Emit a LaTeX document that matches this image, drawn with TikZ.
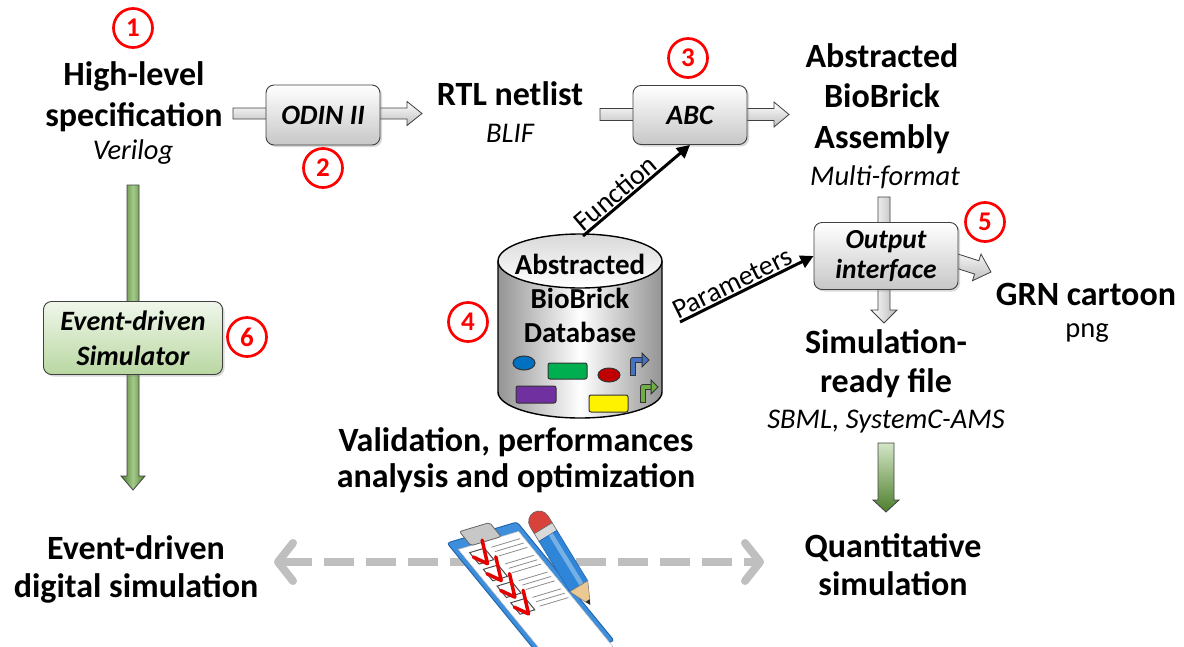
\documentclass[tikz,border=0pt]{standalone}
\usepackage{fontspec}
\setmainfont{Carlito}
\usetikzlibrary{arrows.meta,calc,shadows}

\definecolor{boxline}{HTML}{404040}
\definecolor{simtop}{HTML}{F0F7EA}
\definecolor{simbot}{HTML}{B9D7A2}
\definecolor{greenlight}{HTML}{D3E6C6}
\definecolor{greenmid}{HTML}{A3C98A}
\definecolor{greendark}{HTML}{4E7F2C}
\definecolor{numred}{HTML}{FF0000}
\definecolor{dashgray}{HTML}{BFBFBF}
\definecolor{boardblue}{HTML}{3D8EDB}
\definecolor{boarddark}{HTML}{2467AE}
\definecolor{pencilblue}{HTML}{2F86D8}
\definecolor{eraser}{HTML}{D9413B}
\definecolor{wood}{HTML}{ECC892}
\definecolor{partblue}{HTML}{0070C0}
\definecolor{partgreen}{HTML}{00B050}
\definecolor{partred}{HTML}{C00000}
\definecolor{partpurple}{HTML}{7030A0}
\definecolor{promblue}{HTML}{4472C4}
\definecolor{promgreen}{HTML}{70AD47}

% block arrow: style, from, to, shaft half width, head half width, head length
\newcommand{\blockarrow}[6]{%
  \coordinate (bab) at ($(#3)!#6!(#2)$);
  \path[#1] ($(#2)!#4!90:(#3)$) -- ($(bab)!#4!-90:(#2)$) -- ($(bab)!#5!-90:(#2)$)
    -- (#3) -- ($(bab)!#5!90:(#2)$) -- ($(bab)!#4!90:(#2)$)
    -- ($(#2)!#4!-90:(#3)$) -- cycle;
}

\tikzset{
  title/.style={font=\fontsize{34}{41}\selectfont\bfseries, align=center, inner sep=0pt},
  fmt/.style={font=\fontsize{28.5}{32}\selectfont\itshape, inner sep=0pt, anchor=base},
  plain/.style={font=\fontsize{28.5}{32}\selectfont, inner sep=0pt, anchor=base},
  num/.style={circle, draw=numred, line width=2.7pt, minimum size=39pt, inner sep=0pt,
    text=numred, font=\fontsize{27}{27}\selectfont\bfseries},
  procbox/.style={rounded corners=8pt, draw=boxline, line width=0.9pt,
    top color=white, bottom color=black!22,
    drop shadow={opacity=0.3, shadow xshift=2pt, shadow yshift=-2pt},
    font=\fontsize{28}{30}\selectfont\bfseries\itshape, align=center, inner sep=0pt},
  simbox/.style={procbox, top color=simtop, bottom color=simbot,
    font=\fontsize{28}{35}\selectfont\bfseries\itshape},
  grayarrow/.style={draw=boxline, line width=0.8pt, top color=white, bottom color=black!25},
  grayvarrow/.style={draw=boxline, line width=0.8pt, left color=white, right color=black!28},
  greenarrow/.style={draw=boxline, line width=0.8pt, top color=greenlight, bottom color=greendark},
  greenlong/.style={draw=boxline, line width=0.8pt, left color=greendark, right color=greendark, middle color=greenmid},
  feed/.style={line width=3pt, -{Triangle[length=13pt,width=13pt]}},
  feedlabel/.style={font=\fontsize{28}{30}\selectfont, sloped, above, inner sep=1pt},
  dbtext/.style={font=\fontsize{29}{34}\selectfont\bfseries, align=center, inner sep=0pt},
  compare/.style={dashgray, line width=8pt, dash pattern=on 30pt off 12pt,
    {Straight Barb[length=15pt,width=38pt,round]}-{Straight Barb[length=15pt,width=38pt,round]}},
  part/.style={draw=black!80, line width=1pt},
}

\begin{document}
\begin{tikzpicture}[x=1pt, y=1pt]
\useasboundingbox (0,0) rectangle (1184,-646);

% ---------------- block arrows (drawn first, boxes sit on top) ----------------
\coordinate (a1s) at (233,-113.5);  \coordinate (a1e) at (422,-113.5);
\coordinate (a2s) at (600,-114.5);  \coordinate (a2e) at (789,-114.5);
\coordinate (a3s) at (884,-197);    \coordinate (a3e) at (884,-323);
\coordinate (a4s) at (935,-254);    \coordinate (a4e) at (991,-272);
\coordinate (g1s) at (133,-185);    \coordinate (g1e) at (133,-490);
\coordinate (g2s) at (886,-443);    \coordinate (g2e) at (886,-512);

\blockarrow{grayarrow}{a1s}{a1e}{5.5pt}{12pt}{15pt}
\blockarrow{grayarrow}{a2s}{a2e}{6pt}{12.5pt}{15pt}
\blockarrow{grayvarrow}{a3s}{a3e}{6pt}{13pt}{13pt}
\blockarrow{grayarrow}{a4s}{a4e}{7pt}{14pt}{15pt}
\blockarrow{greenlong}{g1s}{g1e}{6pt}{12pt}{14pt}
\blockarrow{greenarrow}{g2s}{g2e}{8pt}{13pt}{12pt}

% ---------------- process boxes ----------------
\node[procbox, minimum width=114pt, minimum height=60pt] (odin) at (323,-115) {ODIN II};
\node[procbox, minimum width=114pt, minimum height=59pt] (abc) at (690,-115) {ABC};
\node[procbox, minimum width=144pt, minimum height=67pt,
      font=\fontsize{27.5}{30}\selectfont\bfseries\itshape] (out) at (886,-256) {Output\\interface};
\node[simbox, minimum width=179pt, minimum height=73pt] (sim) at (133,-338) {Event-driven\\Simulator};

% ---------------- titles and formats ----------------
\node[title] (spec) at (134,-97) {High-level\\specification};
\node[fmt] (verilog) at (133,-159) {Verilog};
\node[title, anchor=base] (rtl) at (510,-105) {RTL netlist};
\node[fmt] (blif) at (510,-142) {BLIF};
\node[title, font=\fontsize{34}{40.5}\selectfont\bfseries] (asm) at (882,-98.7) {Abstracted\\BioBrick\\Assembly};
\node[fmt] (multi) at (885,-185) {Multi-format};
\node[title, anchor=base] (grn) at (1086,-305) {GRN cartoon};
\node[plain] (png) at (1087,-337) {png};
\node[title, font=\fontsize{34}{39}\selectfont\bfseries] (ready) at (886,-363.7) {Simulation-\\ready file};
\node[fmt] (sbml) at (886,-428) {SBML, SystemC-AMS};
\node[title, font=\fontsize{34}{36}\selectfont\bfseries] (valid) at (516,-460) {Validation, performances\\analysis and optimization};
\node[title, font=\fontsize{34}{38}\selectfont\bfseries] (evsim) at (136,-569) {Event-driven\\digital simulation};
\node[title, font=\fontsize{34}{38}\selectfont\bfseries] (quant) at (893,-565) {Quantitative\\simulation};

% ---------------- numbered markers ----------------
\node[num] (n1) at (133,-28) {1};
\node[num] (n2) at (323,-168) {2};
\node[num] (n3) at (688,-58) {3};
\node[num] (n4) at (468,-322) {4};
\node[num] (n5) at (985,-222) {5};
\node[num] (n6) at (247,-337) {6};

% ---------------- BioBrick database cylinder ----------------
\shade[left color=black!42, right color=black!42, middle color=white]
  (498,-261) -- (498,-392) arc[start angle=180, end angle=360, x radius=82, y radius=26]
  -- (662,-261) arc[start angle=0, end angle=180, x radius=82, y radius=27] -- cycle;
\draw[line width=1.4pt]
  (498,-261) -- (498,-392) arc[start angle=180, end angle=360, x radius=82, y radius=26]
  -- (662,-261);
\shade[top color=black!15, bottom color=white] (580,-261) ellipse[x radius=82, y radius=27];
\draw[line width=1.4pt] (580,-261) ellipse[x radius=82, y radius=27];
\node[dbtext] (db) at (580,-298.6) {Abstracted\\BioBrick\\Database};
\coordinate (dbtop) at (583,-236);
\coordinate (dbside) at (680,-322);

% parts inside the database
\draw[part, fill=partblue] (524,-363) ellipse[x radius=11, y radius=7];
\draw[part, fill=partgreen, rounded corners=2pt] (548,-363) rectangle (587,-379);
\draw[part, fill=partred] (609,-375) ellipse[x radius=11, y radius=7];
\draw[part, fill=partpurple, rounded corners=2pt] (516,-386) rectangle (556,-403);
\draw[part, fill=yellow, rounded corners=2pt] (589,-395) rectangle (628,-412);
% promoter glyphs
\draw[black!80, line width=6pt, line join=round] (633,-376) -- (633,-360) -- (642,-360);
\draw[promblue, line width=4pt, line join=round] (633,-375) -- (633,-360) -- (643,-360);
\draw[part, fill=promblue] (642,-353) -- (649,-360) -- (642,-367) -- cycle;
\draw[black!80, line width=6pt, line join=round] (643,-403) -- (643,-387) -- (651,-387);
\draw[promgreen, line width=4pt, line join=round] (643,-402) -- (643,-387) -- (652,-387);
\draw[part, fill=promgreen] (651,-380) -- (658,-387) -- (651,-394) -- cycle;

% ---------------- function / parameter feeds ----------------
\draw[feed] (dbtop) -- (abc.south) node[feedlabel, pos=0.37] {Function};
\draw[feed] (dbside) -- (out.west) node[feedlabel, pos=0.43] {Parameters};

% ---------------- comparison of the two simulations ----------------
\coordinate (cmpl) at (274,-562);
\coordinate (cmpr) at (764,-562);
\draw[compare] (cmpl) -- (cmpr);

% clipboard
\begin{scope}
\clip (0,0) rectangle (1184,-646);
\begin{scope}[cm={70,21,72,-88,(447,-543)}]
  \draw[draw=boarddark, fill=boardblue, line width=1pt, rounded corners=3pt] (0,0) rectangle (1,1.35);
  \draw[draw=black!25, fill=white, line width=0.5pt] (0.07,0.09) rectangle (0.93,1.4);
  \draw[draw=black!60, fill=black!22, line width=0.8pt, rounded corners=2pt] (0.25,-0.07) rectangle (0.68,0.09);
  \foreach \v in {0.15,0.34,0.53,0.72} {
    \draw[black!70, line width=1pt] (0.17,\v) rectangle (0.38,\v+0.13);
    \draw[red!90!black, line width=3.5pt, line cap=round, line join=round]
      (0.17,\v+0.05) -- (0.27,\v+0.15) -- (0.43,\v-0.08);
    \foreach \k in {0.01,0.06,0.11} {
      \draw[black!45, line width=0.8pt] (0.47,\v+\k) -- (0.88,\v+\k);
    }
  }
\end{scope}
\end{scope}

% pencil
\begin{scope}[shift={(537,-518)}, rotate=-58.5]
  \draw[black!60, fill=eraser, line width=0.6pt]
    (12,-10.5) -- (4,-10.5) arc[start angle=270, end angle=90, radius=10.5] -- (12,10.5) -- cycle;
  \draw[black!60, fill=black!15, line width=0.6pt] (12,-10.5) rectangle (21,10.5);
  \draw[boarddark, fill=pencilblue, line width=0.6pt] (21,-10.5) rectangle (80,10.5);
  \fill[white, opacity=0.35] (21,1) rectangle (80,5.5);
  \draw[black!50, fill=wood, line width=0.6pt]
    (80,-10.5) -- (97,-2.5) -- (97,2.5) -- (80,10.5) -- cycle;
  \fill[black!85] (97,-2.5) -- (102,0) -- (97,2.5) -- cycle;
\end{scope}

\end{tikzpicture}
\end{document}
